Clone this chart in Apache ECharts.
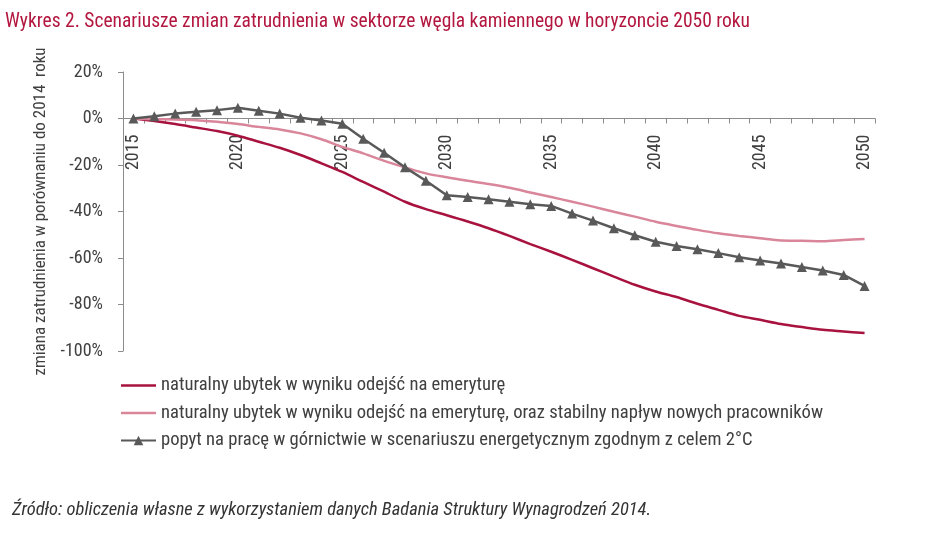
<!DOCTYPE html>
<html>
<head>
<meta charset="utf-8">
<script src="https://cdn.jsdelivr.net/npm/echarts@6/dist/echarts.min.js"></script>
<style>
html,body{margin:0;padding:0;background:#fff;}
#c{width:945px;height:556px;}
</style>
</head>
<body>
<div id="c"></div>
<script>
var years = [];
for (var y = 2015; y <= 2050; y++) years.push(String(y));

var yTicks = ['20%', '0%', '-20%', '-40%', '-60%', '-80%', '-100%'];

var naturalny = [0, -1.1, -2.4, -3.9, -5.4, -7.4, -10.0, -12.6, -15.7, -19.3,
  -23.0, -27.3, -31.5, -35.8, -39.0, -41.6, -44.3, -47.2, -50.5, -54.0,
  -57.3, -60.8, -64.4, -68.0, -71.5, -74.4, -76.8, -79.7, -82.3, -84.9,
  -86.6, -88.4, -89.7, -90.9, -91.6, -92.3];

var stabilny = [0, -0.3, -0.4, -0.7, -1.4, -2.4, -3.6, -4.7, -6.4, -8.9,
  -12.2, -15.0, -18.2, -21.0, -23.6, -25.3, -26.8, -28.2, -29.8, -31.8,
  -33.8, -35.8, -37.9, -40.1, -42.2, -44.4, -46.2, -47.9, -49.4, -50.5,
  -51.5, -52.5, -52.6, -52.8, -52.3, -51.8];

var popyt = [0, 1.0, 2.1, 2.9, 3.6, 4.6, 3.3, 2.1, 0.3, -0.9,
  -2.3, -8.7, -14.7, -21.0, -26.8, -33.0, -33.8, -34.7, -35.8, -36.9,
  -37.6, -40.9, -43.9, -47.2, -50.2, -53.0, -54.8, -56.2, -57.9, -59.7,
  -61.1, -62.4, -63.9, -65.4, -67.3, -72.0];

var names = [
  'naturalny ubytek w wyniku odejść na emeryturę',
  'naturalny ubytek w wyniku odejść na emeryturę, oraz stabilny napływ nowych pracowników',
  'popyt na pracę w górnictwie w scenariuszu energetycznym zgodnym z celem 2°C'
];

var FONT = '"Roboto Condensed", "Liberation Sans Narrow", "Arial Narrow", Roboto, sans-serif';
var LINE_ICON = 'path://M0,0 L60,0 L60,4 L0,4 Z';

var chart = echarts.init(document.getElementById('c'));
chart.setOption({
  animation: false,
  textStyle: { fontFamily: FONT },
  title: [
    {
      text: 'Wykres 2. Scenariusze zmian zatrudnienia w sektorze węgla kamiennego w horyzoncie 2050 roku',
      left: 5, top: 12, padding: 0,
      textStyle: { color: '#B3173F', fontSize: 19.5, fontWeight: 'normal', fontFamily: FONT }
    },
    {
      text: 'Źródło: obliczenia własne z wykorzystaniem danych Badania Struktury Wynagrodzeń 2014.',
      left: 12, top: 501, padding: 0,
      textStyle: { color: '#333', fontSize: 18.5, fontStyle: 'italic', fontWeight: 'normal', fontFamily: FONT }
    }
  ],
  legend: {
    orient: 'vertical',
    left: 120, top: 376, padding: 0,
    itemWidth: 35, itemHeight: 12, itemGap: 8.5,
    textStyle: { color: '#404040', fontSize: 18.6, fontFamily: FONT },
    data: [
      { name: names[0], icon: LINE_ICON },
      { name: names[1], icon: LINE_ICON },
      { name: names[2] }
    ]
  },
  grid: { left: 123, right: 70, top: 72, bottom: 205 },
  xAxis: {
    type: 'category',
    data: years,
    boundaryGap: true,
    position: 'bottom',
    offset: -232.5,
    axisLine: { onZero: false, lineStyle: { color: '#8c8c8c', width: 1 } },
    axisTick: { show: true, interval: 0, length: 5, lineStyle: { color: '#8c8c8c' } },
    axisLabel: {
      interval: 4, rotate: 90, color: '#404040', fontSize: 18, margin: 16, fontFamily: FONT
    }
  },
  yAxis: {
    type: 'value',
    min: -100, max: 20, interval: 20,
    name: 'zmiana zatrudnienia w porównaniu do 2014  roku',
    nameLocation: 'middle',
    nameRotate: 90,
    nameGap: 66,
    nameTextStyle: { color: '#404040', fontSize: 17, fontFamily: FONT },
    axisLine: { show: true, lineStyle: { color: '#8c8c8c', width: 1 } },
    axisTick: { show: true, length: 5, lineStyle: { color: '#8c8c8c' } },
    splitLine: { show: false },
    axisLabel: {
      color: '#404040', fontSize: 18, margin: 20, fontFamily: FONT,
      formatter: function (v) { return yTicks[(20 - v) / 20]; }
    }
  },
  series: [
    {
      name: names[0], type: 'line', data: naturalny,
      symbol: 'none', smooth: 0.3,
      lineStyle: { color: '#A8123E', width: 2.5 },
      itemStyle: { color: '#A8123E' }
    },
    {
      name: names[1], type: 'line', data: stabilny,
      symbol: 'none', smooth: 0.3,
      lineStyle: { color: '#D9869A', width: 2.5 },
      itemStyle: { color: '#D9869A' }
    },
    {
      name: names[2], type: 'line', data: popyt,
      symbol: 'triangle', symbolSize: 10, showAllSymbol: true,
      lineStyle: { color: '#595959', width: 2.5 },
      itemStyle: { color: '#595959' },
      z: 3
    }
  ]
});
</script>
</body>
</html>
